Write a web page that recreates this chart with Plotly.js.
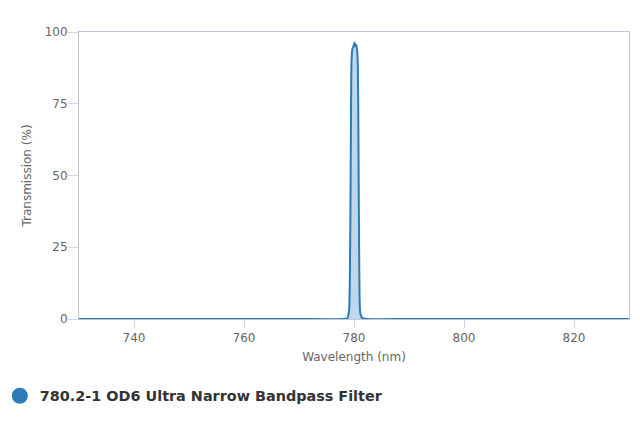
<!DOCTYPE html>
<html><head><meta charset="utf-8">
<script src="https://cdn.plot.ly/plotly-3.0.1.min.js"></script>
<style>html,body{margin:0;padding:0;background:#fff}#chart{width:640px;height:427px}</style>
</head><body><div id="chart"></div>
<script>
const seriesName = "780.2-1 OD6 Ultra Narrow Bandpass Filter";
const wavelength = [730, 770, 778, 778.8, 779.1, 779.3, 779.45, 779.55, 779.7, 779.9, 780.0, 780.1, 780.25, 780.4, 780.55, 780.7, 780.8, 780.95, 781.15, 781.5, 782.3, 790, 830];
const transmission = [0, 0, 0, 0.3, 3, 25, 70, 90, 94, 95, 95.5, 96.3, 95, 95.5, 94, 88, 65, 20, 2, 0.3, 0, 0, 0];
const xTicks = [740, 760, 780, 800, 820];
const yTicks = [0, 25, 50, 75, 100];
const lineColor = '#2b7bb9';

const trace = {
  x: wavelength, y: transmission, name: seriesName,
  type: 'scatter', mode: 'lines', fill: 'tozeroy',
  fillcolor: 'rgba(43,123,185,0.3)',
  line: {color: lineColor, width: 2, shape: 'spline', smoothing: 0.6},
  showlegend: false
};
const legendTrace = {
  x: [null], y: [null], name: seriesName, type: 'scatter', mode: 'markers',
  marker: {symbol: 'circle', size: 16, color: lineColor},
  showlegend: true
};
const axisFont = {family: 'DejaVu Sans, sans-serif', size: 12, color: '#666666'};
const layout = {
  width: 640, height: 427,
  margin: {l: 79, r: 11, t: 32, b: 108, autoexpand: false},
  paper_bgcolor: '#ffffff', plot_bgcolor: '#ffffff',
  xaxis: {
    range: [730, 830], tickvals: xTicks, ticktext: xTicks.map(String),
    showgrid: false, zeroline: false, showline: true, mirror: true,
    linecolor: '#c0c8d8', linewidth: 1,
    ticks: 'outside', ticklen: 8, tickcolor: '#ccd6eb',
    tickfont: axisFont,
    title: {text: 'Wavelength (nm)', font: axisFont, standoff: 8}
  },
  yaxis: {
    range: [0, 100], tickvals: yTicks, ticktext: yTicks.map(String),
    showgrid: false, zeroline: false, showline: true, mirror: true,
    linecolor: '#c0c8d8', linewidth: 1,
    ticks: 'outside', ticklen: 10, tickcolor: '#ccd6eb',
    tickfont: axisFont, ticklabelstandoff: -2,
    title: {text: 'Transmission (%)', font: axisFont, standoff: 10}
  },
  legend: {
    orientation: 'h', x: -0.144, xanchor: 'left', xref: 'paper',
    y: -0.268, yanchor: 'middle',
    font: {family: 'DejaVu Sans, sans-serif', size: 14.4, color: '#333333', weight: 'bold'},
    itemsizing: 'trace'
  },
  showlegend: true
};
Plotly.newPlot('chart', [trace, legendTrace], layout, {displayModeBar: false, staticPlot: true});
</script></body></html>
